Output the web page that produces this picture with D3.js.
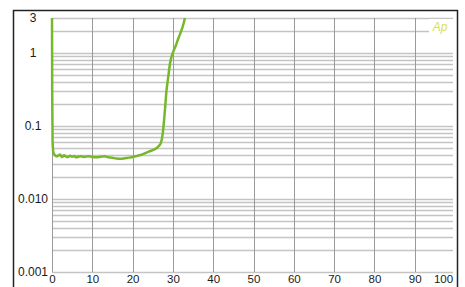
<!DOCTYPE html>
<html>
<head>
<meta charset="utf-8">
<script src="https://cdn.jsdelivr.net/npm/d3@7"></script>
<style>
  body { margin: 0; background: #fff; }
  svg { display: block; font-family: "Liberation Sans", Arial, sans-serif; }
</style>
</head>
<body>
<div id="chart"></div>
<script>
// chart data
var freqs = [0, 0.05, 0.15, 0.35, 0.7, 1, 1.5, 2, 2.5, 3, 3.5, 4, 4.5, 5, 5.5, 6, 7, 8, 9, 10,
  11, 12, 13, 14, 15, 16, 17, 18, 19, 20, 21, 22, 23, 24, 25, 25.5, 26, 26.5, 27,
  27.3, 27.6, 28, 28.4, 28.8, 29.3, 29.7, 30.1, 30.7, 31.3, 32, 32.5, 33];
var levels = [3, 0.3, 0.06, 0.043, 0.040, 0.0385, 0.039, 0.0405, 0.0375, 0.0395, 0.038,
  0.0375, 0.039, 0.0378, 0.0386, 0.0372, 0.0385, 0.0376, 0.0384, 0.0375, 0.0373, 0.0377, 0.0383,
  0.0372, 0.0366, 0.0357, 0.0355, 0.036, 0.0368, 0.0375, 0.0387, 0.040, 0.042, 0.0445,
  0.0465, 0.048, 0.050, 0.053, 0.058, 0.068, 0.09, 0.16, 0.3, 0.45, 0.72, 0.9, 1.04,
  1.25, 1.55, 1.95, 2.35, 3.0];

var xTicks = [0, 10, 20, 30, 40, 50, 60, 70, 80, 90, 100];
var yTicks = [3, 1, 0.1, 0.01, 0.001];
var yTickLabels = ["3", "1", "0.1", "0.010", "0.001"];

var svgWidth = 465;
var svgHeight = 287;

var plotLeft = 52, plotRight = 455, plotTop = 18, plotBottom = 272;

var svg = d3.select("#chart")
  .append("svg")
  .attr("width", svgWidth)
  .attr("height", svgHeight);

// outer frame (runs off the bottom)
svg.append("rect")
  .attr("x", 13.5)
  .attr("y", 10.5)
  .attr("width", 444)
  .attr("height", 300)
  .attr("fill", "none")
  .attr("stroke", "#222")
  .attr("stroke-width", 1.5);

var x = d3.scaleLinear().domain([0, 100]).range([plotLeft, plotRight]);
var y = d3.scaleLog().domain([0.001, 3]).range([plotBottom, plotTop]);

// log minor grid values
var gridY = [];
[0.001, 0.01, 0.1, 1].forEach(function(dec) {
  for (var k = 1; k <= 9; k++) {
    var v = dec * k;
    if (v <= 3.0001) gridY.push(v);
  }
});

svg.append("g")
  .selectAll("line")
  .data(gridY)
  .enter()
  .append("line")
  .attr("x1", plotLeft)
  .attr("x2", 453)
  .attr("y1", function(d) { return Math.round(y(d)) + 0.5; })
  .attr("y2", function(d) { return Math.round(y(d)) + 0.5; })
  .attr("stroke", "#c4c4c4")
  .attr("stroke-width", 1.3);

svg.append("g")
  .selectAll("line")
  .data(xTicks.slice(0, 10))
  .enter()
  .append("line")
  .attr("x1", function(d) { return Math.round(x(d)) + 0.5; })
  .attr("x2", function(d) { return Math.round(x(d)) + 0.5; })
  .attr("y1", plotTop)
  .attr("y2", plotBottom)
  .attr("stroke", "#9a9a9a")
  .attr("stroke-width", 1);

// Ap logo
svg.append("rect")
  .attr("x", 429)
  .attr("y", 19)
  .attr("width", 24)
  .attr("height", 20)
  .attr("fill", "#fff");
svg.append("text")
  .attr("x", 440)
  .attr("y", 31)
  .attr("text-anchor", "middle")
  .style("font-size", "12px")
  .style("font-style", "italic")
  .style("fill", "#d6df5a")
  .text("Ap");

// axes (labels only)
var yAxis = d3.axisLeft(y)
  .tickValues(yTicks)
  .tickFormat(function(d, i) { return yTickLabels[i]; })
  .tickSize(0);
var yG = svg.append("g")
  .attr("transform", "translate(" + plotLeft + ",0)")
  .call(yAxis);
yG.select(".domain").remove();
yG.selectAll("text")
  .attr("x", -19)
  .attr("text-anchor", "middle")
  .style("font-size", "12px")
  .style("fill", "#1a1a1a");

var xAxis = d3.axisBottom(x)
  .tickValues(xTicks)
  .tickSize(0)
  .tickPadding(3);
var xG = svg.append("g")
  .attr("transform", "translate(0," + plotBottom + ")")
  .call(xAxis);
xG.select(".domain").remove();
xG.selectAll("text")
  .attr("x", function(d) { return d === 100 ? -12 : 0; })
  .style("font-size", "11.5px")
  .style("fill", "#1a1a1a");

// curve
var pts = freqs.map(function(f, i) { return [f, levels[i]]; });
var line = d3.line()
  .x(function(d) { return x(d[0]); })
  .y(function(d) { return y(d[1]); })
  .curve(d3.curveMonotoneX);

svg.append("path")
  .datum(pts)
  .attr("d", line)
  .attr("fill", "none")
  .attr("stroke", "#76b82a")
  .attr("stroke-width", 2.5)
  .attr("stroke-linejoin", "round");
</script>
</body>
</html>
